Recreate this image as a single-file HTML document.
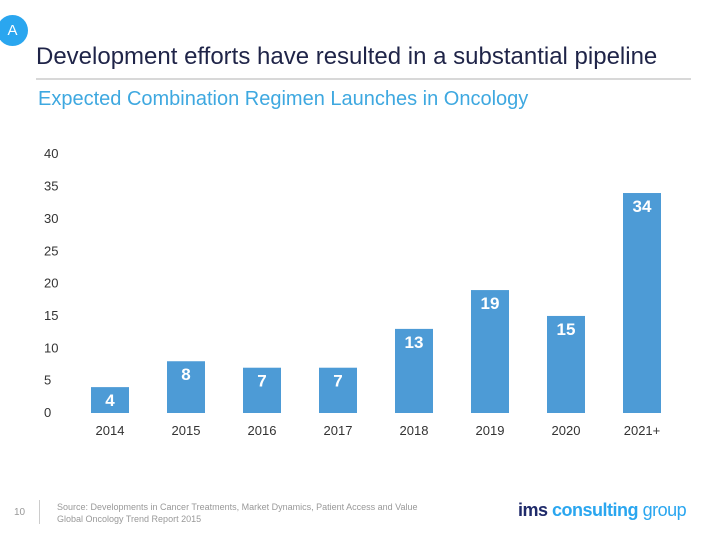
<!DOCTYPE html>
<html><head><meta charset="utf-8"><style>
body{margin:0;width:720px;height:540px;background:#fff;font-family:"Liberation Sans",sans-serif;overflow:hidden;position:relative}
.abs{position:absolute}
</style></head><body>
<div class="abs" style="left:-3px;top:15px;width:31px;height:31px;border-radius:50%;background:#2aa6ef;color:#fff;font-size:15px;line-height:31px;text-align:center;">A</div>
<div class="abs" style="left:36px;top:43px;font-size:24px;color:#1f2448;white-space:nowrap">Development efforts have resulted in a substantial pipeline</div>
<div class="abs" style="left:36px;top:78px;width:655px;height:2px;background:#d8d8d8"></div>
<div class="abs" style="left:38px;top:88px;font-size:20px;color:#3ea8e0;white-space:nowrap">Expected Combination Regimen Launches in Oncology</div>
<svg class="abs" style="left:0;top:0" width="720" height="540" id="chart"></svg>
<div class="abs" style="left:14px;top:507px;font-size:10px;color:#999">10</div>
<div class="abs" style="left:39px;top:500px;width:1px;height:24px;background:#ccc"></div>
<div class="abs" style="left:57px;top:501px;font-size:9px;color:#999;line-height:12px">Source: Developments in Cancer Treatments, Market Dynamics, Patient Access and Value<br>Global Oncology Trend Report 2015</div>
<div class="abs" style="left:518px;top:500px;font-size:18px;font-weight:bold;white-space:nowrap;letter-spacing:-0.5px"><span style="color:#1f2a6a">ims</span> <span style="color:#2aa6ef">consulting</span> <span style="color:#2aa6ef;font-weight:normal">group</span></div>
<script>
const categories=["2014","2015","2016","2017","2018","2019","2020","2021+"];
const values=[4,8,7,7,13,19,15,34];
const yTicks=[0,5,10,15,20,25,30,35,40];
const svg=document.getElementById('chart');
const NS='http://www.w3.org/2000/svg';
const base=413, scale=6.47, x0=110, step=76, bw=38;
const y=v=>base-v*scale;
const x=i=>x0+i*step;
yTicks.forEach(t=>{
 const el=document.createElementNS(NS,'text');
 
 
 el.setAttribute('x',44);el.setAttribute('y',y(t)+4);
 el.setAttribute('font-size','13');el.setAttribute('fill','#333');
 el.textContent=t;svg.appendChild(el);
});
categories.forEach((c,i)=>{
 const r=document.createElementNS(NS,'rect');
 
 
 r.setAttribute('x',x(i)-bw/2);r.setAttribute('y',y(values[i]));
 r.setAttribute('width',bw);r.setAttribute('height',values[i]*scale);
 r.setAttribute('fill','#4d9bd6');svg.appendChild(r);
 const v=document.createElementNS(NS,'text');
 
 
 v.setAttribute('x',x(i));v.setAttribute('y',y(values[i])+19);
 v.setAttribute('text-anchor','middle');v.setAttribute('font-size','17');
 v.setAttribute('font-weight','bold');v.setAttribute('fill','#fff');
 v.textContent=values[i];svg.appendChild(v);
 const l=document.createElementNS(NS,'text');
 
 
 l.setAttribute('x',x(i));l.setAttribute('y',435);
 l.setAttribute('text-anchor','middle');l.setAttribute('font-size','13');
 l.setAttribute('fill','#333');l.textContent=c;svg.appendChild(l);
});
</script>
</body></html>
